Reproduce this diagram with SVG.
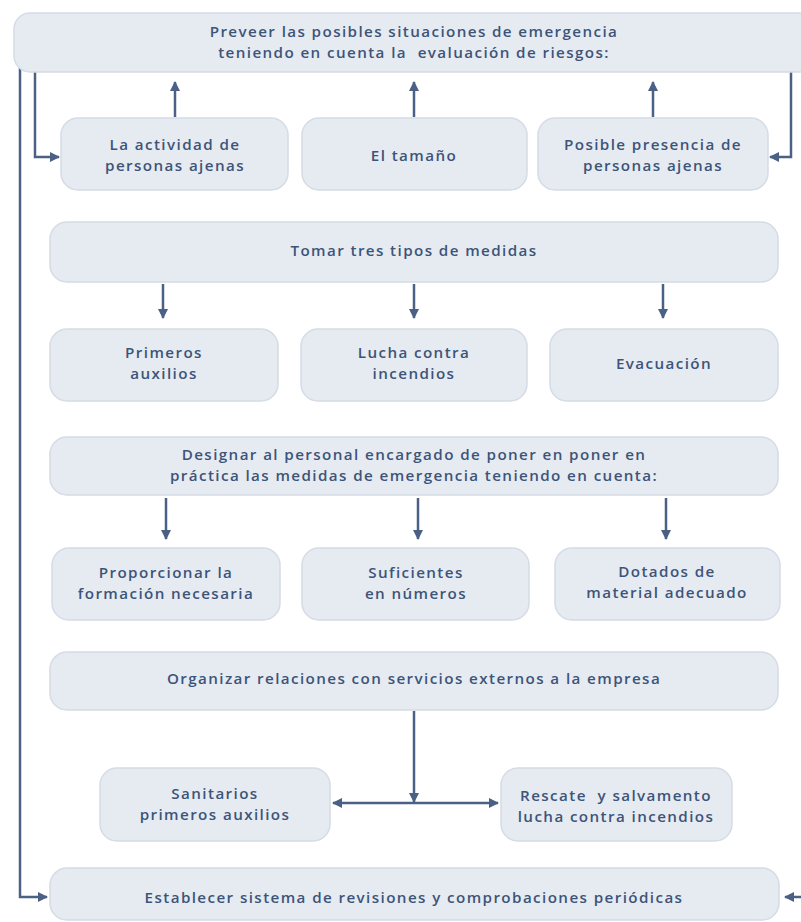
<svg xmlns="http://www.w3.org/2000/svg" width="801" height="922" viewBox="0 0 801 922">
<style>
.box{fill:#e6ebf2;stroke:#d5dce6;stroke-width:1.5}
.t{font-family:"Open Sans","Liberation Sans",sans-serif;font-weight:600;font-size:15.2px;letter-spacing:1.4px;fill:#3d5479;text-anchor:middle}
.ln{fill:none;stroke:#4b6085;stroke-width:2.5}
</style>
<defs>
<marker id="ah" viewBox="0 0 10 10" refX="9" refY="5" markerWidth="4" markerHeight="4" orient="auto" markerUnits="strokeWidth">
<path d="M0,0 L10,5 L0,10 Z" fill="#4b6085"/>
</marker>
</defs>
<rect width="801" height="922" fill="#ffffff"/>
<g id="connectors">
<path class="ln" d="M20,68 V897 H47" marker-end="url(#ah)"/>
<path class="ln" d="M35,72 V157 H59" marker-end="url(#ah)"/>
<path class="ln" d="M791,72 V157 H770" marker-end="url(#ah)"/>
<path class="ln" d="M175,117 V82" marker-end="url(#ah)"/>
<path class="ln" d="M414,117 V82" marker-end="url(#ah)"/>
<path class="ln" d="M653,117 V82" marker-end="url(#ah)"/>
<path class="ln" d="M163,284 V318" marker-end="url(#ah)"/>
<path class="ln" d="M414,284 V318" marker-end="url(#ah)"/>
<path class="ln" d="M663,284 V318" marker-end="url(#ah)"/>
<path class="ln" d="M166,498 V539" marker-end="url(#ah)"/>
<path class="ln" d="M418,498 V539" marker-end="url(#ah)"/>
<path class="ln" d="M666,498 V539" marker-end="url(#ah)"/>
<path class="ln" d="M414,711 V802" marker-end="url(#ah)"/>
<path class="ln" d="M414,803 H333" marker-end="url(#ah)"/>
<path class="ln" d="M414,803 H498" marker-end="url(#ah)"/>
<path class="ln" d="M801,897 H785" marker-end="url(#ah)"/>
</g>
<g id="n-preveer"><rect class="box" x="14" y="13" width="800" height="59" rx="16"/>
<text class="t" x="414" y="37">Preveer las posibles situaciones de emergencia</text>
<text class="t" x="414" y="58" xml:space="preserve">teniendo en cuenta la  evaluación de riesgos:</text></g>
<g id="n-actividad"><rect class="box" x="61" y="118" width="227" height="72" rx="17"/>
<text class="t" x="175" y="150">La actividad de</text>
<text class="t" x="175" y="171">personas ajenas</text></g>
<g id="n-tamano"><rect class="box" x="302" y="118" width="225" height="72" rx="17"/>
<text class="t" x="414" y="161">El tamaño</text></g>
<g id="n-posible"><rect class="box" x="538" y="118" width="230" height="72" rx="17"/>
<text class="t" x="653" y="150">Posible presencia de</text>
<text class="t" x="653" y="171">personas ajenas</text></g>
<g id="n-tomar"><rect class="box" x="50" y="222" width="728" height="60" rx="17"/>
<text class="t" x="414" y="256">Tomar tres tipos de medidas</text></g>
<g id="n-primeros"><rect class="box" x="50" y="329" width="228" height="72" rx="17"/>
<text class="t" x="164" y="358">Primeros</text>
<text class="t" x="164" y="379">auxilios</text></g>
<g id="n-lucha"><rect class="box" x="301" y="329" width="226" height="72" rx="17"/>
<text class="t" x="414" y="358">Lucha contra</text>
<text class="t" x="414" y="379">incendios</text></g>
<g id="n-evacuacion"><rect class="box" x="550" y="329" width="228" height="72" rx="17"/>
<text class="t" x="664" y="369">Evacuación</text></g>
<g id="n-designar"><rect class="box" x="50" y="437" width="728" height="58" rx="17"/>
<text class="t" x="414" y="460">Designar al personal encargado de poner en poner en</text>
<text class="t" x="414" y="481">práctica las medidas de emergencia teniendo en cuenta:</text></g>
<g id="n-proporcionar"><rect class="box" x="52" y="548" width="228" height="72" rx="17"/>
<text class="t" x="166" y="578">Proporcionar la</text>
<text class="t" x="166" y="599">formación necesaria</text></g>
<g id="n-suficientes"><rect class="box" x="302" y="548" width="227" height="72" rx="17"/>
<text class="t" x="416" y="578">Suficientes</text>
<text class="t" x="416" y="599">en números</text></g>
<g id="n-dotados"><rect class="box" x="555" y="548" width="225" height="72" rx="17"/>
<text class="t" x="667" y="577">Dotados de</text>
<text class="t" x="667" y="598">material adecuado</text></g>
<g id="n-organizar"><rect class="box" x="50" y="652" width="728" height="58" rx="17"/>
<text class="t" x="414" y="684">Organizar relaciones con servicios externos a la empresa</text></g>
<g id="n-sanitarios"><rect class="box" x="100" y="768" width="230" height="73" rx="17"/>
<text class="t" x="215" y="799">Sanitarios</text>
<text class="t" x="215" y="820">primeros auxilios</text></g>
<g id="n-rescate"><rect class="box" x="501" y="768" width="231" height="73" rx="17"/>
<text class="t" x="616" y="801" xml:space="preserve">Rescate  y salvamento</text>
<text class="t" x="616" y="822">lucha contra incendios</text></g>
<g id="n-establecer"><rect class="box" x="50" y="868" width="729" height="52" rx="17"/>
<text class="t" x="414" y="903">Establecer sistema de revisiones y comprobaciones periódicas</text></g>
</svg>
